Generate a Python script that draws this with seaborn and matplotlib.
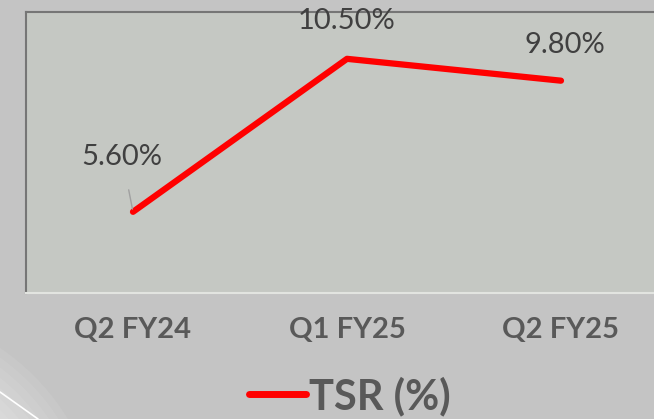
import pandas as pd
import numpy as np
import seaborn as sns
import matplotlib.pyplot as plt
from matplotlib.patches import Circle

quarters = ['Q2 FY24', 'Q1 FY25', 'Q2 FY25']
tsr = [5.60, 10.50, 9.80]
labels = ['5.60%', '10.50%', '9.80%']

df = pd.DataFrame({'quarter': quarters, 'TSR (%)': tsr})

sns.set_style('white')
plt.rcParams['font.family'] = ['Lato', 'DejaVu Sans']

fig = plt.figure(figsize=(6.54, 4.19), dpi=100)
fig.patch.set_facecolor('#c4c4c4')

# decorative light swoosh in the bottom-left corner
bg = fig.add_axes([0, 0, 1, 1], zorder=-5)
bg.set_xlim(0, 654)
bg.set_ylim(419, 0)
bg.axis('off')
for r in np.arange(232, 150, -8):
    bg.add_patch(Circle((-130, 540), r, facecolor='white', edgecolor='none', alpha=0.07))
bg.plot([0, 38], [392, 419], color='white', lw=1.2)

ax = fig.add_axes([26 / 654, 1 - 293 / 419, 642 / 654, 281 / 419])
ax.set_facecolor('#c5c8c3')

sns.lineplot(data=df, x='quarter', y='TSR (%)', color='#ff0000', lw=4.5,
             solid_capstyle='round', label='TSR (%)', ax=ax, sort=False)

ax.set_xlim(-0.5, 2.5)
ax.set_ylim(3, 12)
ax.set_yticks([])
ax.set_xlabel('')
ax.set_ylabel('')
ax.tick_params(axis='x', length=0, pad=17, labelsize=21, labelcolor='#595959')
for t in ax.get_xticklabels():
    t.set_fontweight('bold')
for name, s in ax.spines.items():
    s.set_color('#e2e4e0' if name == 'bottom' else '#767676')
    s.set_linewidth(1.5)

# data labels
ax.annotate(labels[0], xy=(0, tsr[0]), xytext=(-0.05, 7.35), ha='center', va='center',
            fontsize=21, color='#404040',
            arrowprops=dict(arrowstyle='-', color='#a0a0a0', lw=1, shrinkA=12, shrinkB=2))
ax.text(1, 11.7, labels[1], ha='center', va='center', fontsize=21, color='#404040',
        clip_on=False)
ax.text(2.02, 10.95, labels[2], ha='center', va='center', fontsize=21, color='#404040')

leg = ax.legend(loc='center', bbox_to_anchor=(324 / 642, -103 / 281), frameon=False,
                fontsize=30, handlelength=1.35, handletextpad=0.08, labelcolor='#595959')
for t in leg.get_texts():
    t.set_fontweight('bold')
for h in leg.get_lines():
    h.set_linewidth(5)

fig.savefig('out.png', dpi=100, facecolor=fig.get_facecolor())
